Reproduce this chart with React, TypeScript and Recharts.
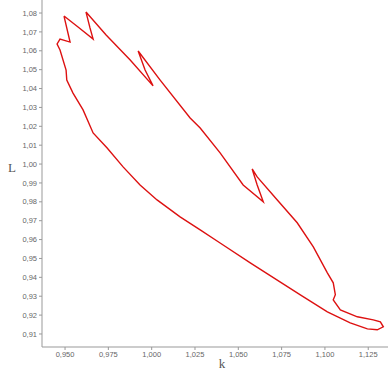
import React from 'react';
import { LineChart, Line, XAxis, YAxis, Label } from 'recharts';

// bifurcation loop traced in order (k, L)
const kValues = [
  0.9494, 0.9575, 0.9662, 0.9644, 0.9621, 0.9737, 0.9876, 1.0008, 0.9962, 0.9922,
  1.0049, 1.0222, 1.028, 1.0395, 1.0528, 1.0644, 1.0609, 1.058, 1.0609, 1.0725,
  1.084, 1.0933, 1.1014, 1.1048, 1.106, 1.1048, 1.1089, 1.1187, 1.1279, 1.132,
  1.1337, 1.1302, 1.1245, 1.1146, 1.1014, 1.0858, 1.0569, 1.0395, 1.028, 1.0164,
  1.0031, 0.9933, 0.9835, 0.9743, 0.9662, 0.9604, 0.9546, 0.951, 0.9506, 0.9471,
  0.9454, 0.9471, 0.9529, 0.9494,
];
const lValues = [
  1.0784, 1.0726, 1.0662, 1.0721, 1.0805, 1.0684, 1.0551, 1.0414, 1.0498, 1.0599,
  1.0445, 1.0244, 1.0191, 1.0059, 0.9889, 0.98, 0.9889, 0.9974, 0.9932, 0.981,
  0.9689, 0.9561, 0.9424, 0.9371, 0.9308, 0.9281, 0.9228, 0.9191, 0.9175, 0.9164,
  0.9138, 0.9122, 0.9127, 0.9159, 0.9217, 0.9307, 0.9477, 0.9582, 0.9651, 0.972,
  0.981, 0.9889, 0.9985, 1.0085, 1.0165, 1.0287, 1.0376, 1.0445, 1.0498, 1.0604,
  1.0636, 1.0662, 1.0646, 1.0784,
];

const kTicks = [0.95, 0.975, 1.0, 1.025, 1.05, 1.075, 1.1, 1.125];
const lTicks = [0.91, 0.92, 0.93, 0.94, 0.95, 0.96, 0.97, 0.98, 0.99, 1.0, 1.01, 1.02, 1.03, 1.04, 1.05, 1.06, 1.07, 1.08];

const data = kValues.map((k, i) => ({ k, L: lValues[i] }));

const fmt = (d: number) => (v: number) => v.toFixed(d).replace('.', ',');

const tickStyle = { fontSize: 7.5, fill: '#666', fontFamily: 'Liberation Sans, Arial, sans-serif' };
const labelStyle = { fontFamily: 'Liberation Serif, serif', fontSize: 13, fill: '#555' };

export default function App() {
  return (
    <div style={{ position: 'absolute', left: 0, top: 0, background: '#fff' }}>
      <LineChart width={390} height={372} data={data} margin={{ top: 0, right: 2, bottom: 0, left: 0 }}>
        <XAxis
          type="number"
          dataKey="k"
          domain={[0.9367, 1.1364]}
          ticks={kTicks}
          tickFormatter={fmt(3)}
          allowDataOverflow
          height={25}
          stroke="#999"
          tickSize={3}
          tick={tickStyle}
        >
          <Label value="k" position="insideBottom" offset={4} dx={7} style={labelStyle} />
        </XAxis>
        <YAxis
          type="number"
          dataKey="L"
          domain={[0.9031, 1.0869]}
          ticks={lTicks}
          tickFormatter={fmt(2)}
          allowDataOverflow
          width={42}
          stroke="#999"
          tickSize={3}
          tick={tickStyle}
        >
          <Label value="L" position="insideLeft" offset={8} dy={-6} style={labelStyle} />
        </YAxis>
        <Line
          type="linear"
          dataKey="L"
          stroke="#dd1111"
          strokeWidth={1.4}
          dot={false}
          isAnimationActive={false}
        />
      </LineChart>
    </div>
  );
}
